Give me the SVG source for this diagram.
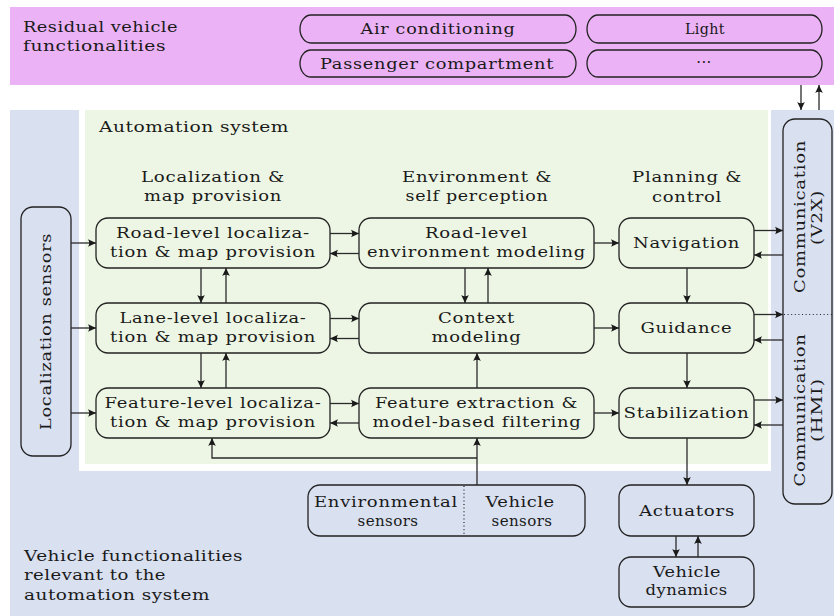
<svg xmlns="http://www.w3.org/2000/svg" width="834" height="616" viewBox="0 0 834 616">
<style>
.t{font-family:"DejaVu Serif","Liberation Serif",serif;font-size:15px;letter-spacing:0.6px;fill:#1a1a1a;text-anchor:middle}
.tn{font-family:"DejaVu Serif","Liberation Serif",serif;font-size:15px;letter-spacing:0.4px;fill:#1a1a1a;text-anchor:middle}
.tl{font-family:"DejaVu Serif","Liberation Serif",serif;font-size:15px;letter-spacing:0.4px;fill:#1a1a1a;text-anchor:start}
.box{fill:none;stroke:#222;stroke-width:1.3}
.c{fill:none;stroke:#2a2a2a;stroke-width:1.3;marker-end:url(#ah)}
.dot{fill:none;stroke:#222;stroke-width:1.2;stroke-dasharray:1 2.6}
</style>
<defs>
<marker id="ah" viewBox="-9 -5 10 10" refX="0" refY="0" markerWidth="10" markerHeight="10" markerUnits="userSpaceOnUse" orient="auto">
<path d="M0,0 L-8,-3.8 Q-5.5,0 -8,3.8 Z" fill="#1a1a1a"/>
</marker>
</defs>
<g id="regions">
<rect x="10" y="7" width="824" height="78" fill="#ebb3f5"/>
<rect x="10" y="110" width="824" height="506" fill="#d9e0f0"/>
<rect x="79" y="110" width="692" height="361" fill="#ffffff"/>
<rect x="85" y="110" width="683" height="354" fill="#edf6e4"/>
<text class="tl" x="23" y="32" textLength="155" lengthAdjust="spacingAndGlyphs">Residual vehicle</text>
<text class="tl" x="23" y="51" textLength="143" lengthAdjust="spacingAndGlyphs">functionalities</text>
<text class="tl" x="99" y="132" textLength="190" lengthAdjust="spacingAndGlyphs">Automation system</text>
<text class="t" x="213" y="182" textLength="144" lengthAdjust="spacingAndGlyphs">Localization &amp;</text>
<text class="t" x="213" y="201" textLength="138" lengthAdjust="spacingAndGlyphs">map provision</text>
<text class="t" x="477" y="182" textLength="150" lengthAdjust="spacingAndGlyphs">Environment &amp;</text>
<text class="t" x="477" y="201" textLength="143" lengthAdjust="spacingAndGlyphs">self perception</text>
<text class="t" x="687" y="182" textLength="110" lengthAdjust="spacingAndGlyphs">Planning &amp;</text>
<text class="t" x="687" y="201.5" textLength="70" lengthAdjust="spacingAndGlyphs">control</text>
<text class="tl" x="24" y="561" textLength="219" lengthAdjust="spacingAndGlyphs">Vehicle functionalities</text>
<text class="tl" x="24" y="580" textLength="142" lengthAdjust="spacingAndGlyphs">relevant to the</text>
<text class="tl" x="24" y="600" textLength="186" lengthAdjust="spacingAndGlyphs">automation system</text>
</g>
<g id="node-air">
<rect class="box" x="300" y="15" width="276" height="28" rx="11" ry="14"/>
<text class="t" x="438" y="33.5" textLength="155" lengthAdjust="spacingAndGlyphs">Air conditioning</text>
</g>
<g id="node-light">
<rect class="box" x="587" y="15" width="235" height="28" rx="11" ry="14"/>
<text class="tn" x="705" y="33.5" textLength="40" lengthAdjust="spacingAndGlyphs">Light</text>
</g>
<g id="node-passenger">
<rect class="box" x="300" y="50" width="276" height="27" rx="11" ry="13.5"/>
<text class="t" x="437" y="68.5" textLength="234" lengthAdjust="spacingAndGlyphs">Passenger compartment</text>
</g>
<g id="node-dots">
<rect class="box" x="587" y="50" width="235" height="27" rx="11" ry="13.5"/>
<text class="tn" x="704" y="66.5" letter-spacing="2px">···</text>
</g>
<g id="node-locsensors">
<rect class="box" x="21" y="207" width="50" height="249" rx="12"/>
<text class="t" transform="translate(50.5,331.5) rotate(-90)" x="0" y="0" textLength="197" lengthAdjust="spacingAndGlyphs">Localization sensors</text>
</g>
<g id="node-rl">
<rect class="box" x="96" y="218" width="234" height="50" rx="12"/>
<text class="t" x="213" y="237.5" textLength="194" lengthAdjust="spacingAndGlyphs">Road-level localiza-</text>
<text class="t" x="213" y="256.5" textLength="206" lengthAdjust="spacingAndGlyphs">tion &amp; map provision</text>
</g>
<g id="node-ll">
<rect class="box" x="96" y="303" width="234" height="50" rx="12"/>
<text class="t" x="213" y="322.5" textLength="187" lengthAdjust="spacingAndGlyphs">Lane-level localiza-</text>
<text class="t" x="213" y="341.5" textLength="206" lengthAdjust="spacingAndGlyphs">tion &amp; map provision</text>
</g>
<g id="node-fl">
<rect class="box" x="96" y="388" width="234" height="50" rx="12"/>
<text class="t" x="213" y="407.5" textLength="217" lengthAdjust="spacingAndGlyphs">Feature-level localiza-</text>
<text class="t" x="213" y="426.5" textLength="206" lengthAdjust="spacingAndGlyphs">tion &amp; map provision</text>
</g>
<g id="node-re">
<rect class="box" x="359" y="218" width="235" height="50" rx="12"/>
<text class="t" x="476.5" y="237.5" textLength="103" lengthAdjust="spacingAndGlyphs">Road-level</text>
<text class="t" x="476.5" y="256.5" textLength="219" lengthAdjust="spacingAndGlyphs">environment modeling</text>
</g>
<g id="node-cm">
<rect class="box" x="359" y="303" width="235" height="50" rx="12"/>
<text class="t" x="476.5" y="322.5" textLength="77" lengthAdjust="spacingAndGlyphs">Context</text>
<text class="t" x="476.5" y="341.5" textLength="90" lengthAdjust="spacingAndGlyphs">modeling</text>
</g>
<g id="node-fe">
<rect class="box" x="359" y="388" width="235" height="50" rx="12"/>
<text class="t" x="476.5" y="407.5" textLength="203" lengthAdjust="spacingAndGlyphs">Feature extraction &amp;</text>
<text class="t" x="477" y="426.5" textLength="209" lengthAdjust="spacingAndGlyphs">model-based filtering</text>
</g>
<g id="node-nav">
<rect class="box" x="619" y="218" width="135" height="50" rx="12"/>
<text class="t" x="686.5" y="248" textLength="107" lengthAdjust="spacingAndGlyphs">Navigation</text>
</g>
<g id="node-gui">
<rect class="box" x="619" y="303" width="135" height="50" rx="12"/>
<text class="t" x="686.5" y="333" textLength="92" lengthAdjust="spacingAndGlyphs">Guidance</text>
</g>
<g id="node-stab">
<rect class="box" x="619" y="388" width="135" height="50" rx="12"/>
<text class="t" x="686.5" y="418" textLength="126" lengthAdjust="spacingAndGlyphs">Stabilization</text>
</g>
<g id="node-comm">
<rect class="box" x="783" y="119" width="49" height="385" rx="12"/>
<line class="dot" x1="784" y1="314.5" x2="832" y2="314.5"/>
<text class="t" transform="translate(804.5,216.5) rotate(-90)" x="0" y="0" textLength="153" lengthAdjust="spacingAndGlyphs">Communication</text>
<text class="t" transform="translate(822,217.5) rotate(-90)" x="0" y="0" textLength="55" lengthAdjust="spacingAndGlyphs">(V2X)</text>
<text class="t" transform="translate(804.5,410) rotate(-90)" x="0" y="0" textLength="153" lengthAdjust="spacingAndGlyphs">Communication</text>
<text class="t" transform="translate(822,410) rotate(-90)" x="0" y="0" textLength="64" lengthAdjust="spacingAndGlyphs">(HMI)</text>
</g>
<g id="node-sensors">
<rect class="box" x="308" y="485" width="277" height="51" rx="12"/>
<line class="dot" x1="464" y1="486" x2="464" y2="535"/>
<text class="t" x="386" y="506.5" textLength="144" lengthAdjust="spacingAndGlyphs">Environmental</text>
<text class="tn" x="388" y="525.5" textLength="61" lengthAdjust="spacingAndGlyphs">sensors</text>
<text class="tn" x="520" y="506.5" textLength="69" lengthAdjust="spacingAndGlyphs">Vehicle</text>
<text class="tn" x="522" y="525.5" textLength="61" lengthAdjust="spacingAndGlyphs">sensors</text>
</g>
<g id="node-act">
<rect class="box" x="619" y="485" width="135" height="51" rx="12"/>
<text class="t" x="687" y="516" textLength="96" lengthAdjust="spacingAndGlyphs">Actuators</text>
</g>
<g id="node-vd">
<rect class="box" x="619" y="557" width="135" height="50" rx="12"/>
<text class="tn" x="687" y="576.5" textLength="68" lengthAdjust="spacingAndGlyphs">Vehicle</text>
<text class="tn" x="686.5" y="595" textLength="82" lengthAdjust="spacingAndGlyphs">dynamics</text>
</g>
<g id="connectors">
<path class="c" d="M801,85 V110"/>
<path class="c" d="M819,110 V85"/>
<path class="c" d="M71,243 H96"/>
<path class="c" d="M71,328 H96"/>
<path class="c" d="M71,413 H96"/>
<path class="c" d="M330,233.5 H359"/>
<path class="c" d="M359,253.5 H330"/>
<path class="c" d="M330,318.5 H359"/>
<path class="c" d="M359,338.5 H330"/>
<path class="c" d="M330,403.5 H359"/>
<path class="c" d="M359,423 H330"/>
<path class="c" d="M201,268 V303"/>
<path class="c" d="M226,303 V268"/>
<path class="c" d="M201,353 V388"/>
<path class="c" d="M226,388 V353"/>
<path class="c" d="M465,268 V303"/>
<path class="c" d="M488,303 V268"/>
<path class="c" d="M477,388 V353"/>
<path class="c" d="M594,243 H619"/>
<path class="c" d="M594,328 H619"/>
<path class="c" d="M594,413 H619"/>
<path class="c" d="M687,268 V303"/>
<path class="c" d="M687,353 V388"/>
<path class="c" d="M687,438 V485"/>
<path class="c" d="M754,230.5 H783"/>
<path class="c" d="M783,255 H754"/>
<path class="c" d="M754,314.5 H783"/>
<path class="c" d="M783,340 H754"/>
<path class="c" d="M754,400 H783"/>
<path class="c" d="M783,425 H754"/>
<path class="c" d="M676,536 V557"/>
<path class="c" d="M698,557 V536"/>
<path class="c" d="M477,485 V438"/>
<path class="c" d="M477,458 H212 V438"/>
</g>
</svg>
